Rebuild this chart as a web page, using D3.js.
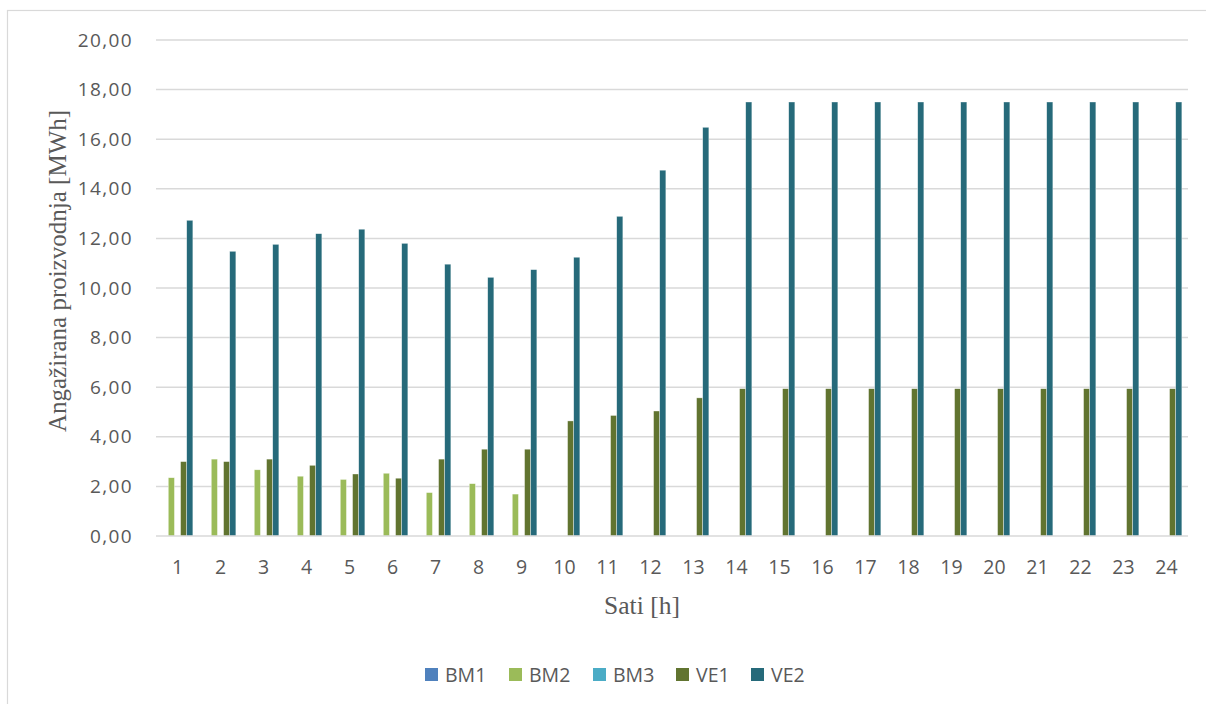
<!DOCTYPE html>
<html>
<head>
<meta charset="utf-8">
<script src="https://cdn.jsdelivr.net/npm/d3@7"></script>
<style>
  html, body { margin: 0; padding: 0; background: #fff; }
  svg { display: block; }
</style>
</head>
<body>
<svg id="chart" width="1206" height="704"></svg>
<script>
const hours = ["1","2","3","4","5","6","7","8","9","10","11","12","13","14","15","16","17","18","19","20","21","22","23","24"];
const seriesNames = ["BM1", "BM2", "BM3", "VE1", "VE2"];
const seriesColors = ["#4F81BD", "#9BBB59", "#4BACC6", "#617430", "#266A7A"];
const BM1 = [0,0,0,0,0,0,0,0,0,0,0,0,0,0,0,0,0,0,0,0,0,0,0,0];
const BM2 = [2.35,3.10,2.67,2.41,2.28,2.53,1.75,2.11,1.69,0,0,0,0,0,0,0,0,0,0,0,0,0,0,0];
const BM3 = [0,0,0,0,0,0,0,0,0,0,0,0,0,0,0,0,0,0,0,0,0,0,0,0];
const VE1 = [3.00,3.00,3.10,2.85,2.50,2.33,3.10,3.50,3.50,4.64,4.86,5.04,5.57,5.94,5.94,5.94,5.94,5.94,5.94,5.94,5.94,5.94,5.94,5.94];
const VE2 = [12.73,11.48,11.76,12.19,12.37,11.80,10.96,10.43,10.74,11.24,12.89,14.75,16.48,17.50,17.50,17.50,17.50,17.50,17.50,17.50,17.50,17.50,17.50,17.50];
const yTicks = [0,2,4,6,8,10,12,14,16,18,20];
const yTitle = "Angažirana proizvodnja [MWh]";
const xTitle = "Sati [h]";

const seriesData = [BM1, BM2, BM3, VE1, VE2];

const svg = d3.select("#chart");
const sans = "'Open Sans', 'Noto Sans', sans-serif";
const serif = "'Liberation Serif', 'DejaVu Serif', serif";
const textColor = "#595959";

// outer border
svg.append("rect").attr("x", 7.5).attr("y", 10.5).attr("width", 1210).attr("height", 710)
  .attr("fill", "none").attr("stroke", "#D9D9D9").attr("stroke-width", 1.2);

const plot = { left: 156, right: 1188, top: 40, bottom: 536 };

const y = d3.scaleLinear().domain([0, 20]).range([plot.bottom, plot.top]);
const x0 = d3.scaleBand().domain(hours).range([plot.left, plot.right])
  .paddingInner(2/7).paddingOuter(1/7);
const x1 = d3.scaleBand().domain(seriesNames).range([0, x0.bandwidth()]).padding(0);

// gridlines
svg.append("g").selectAll("line").data(yTicks.filter(t => t > 0)).join("line")
  .attr("x1", plot.left).attr("x2", plot.right)
  .attr("y1", d => y(d)).attr("y2", d => y(d))
  .attr("stroke", "#D9D9D9").attr("stroke-width", 1.5);

// y axis labels
const yAxis = d3.axisLeft(y).tickValues(yTicks)
  .tickFormat(d => d3.format(".2f")(d).replace(".", ","))
  .tickSize(0).tickPadding(23);
const gy = svg.append("g").attr("transform", `translate(${plot.left},0)`).call(yAxis);
gy.select(".domain").remove();
gy.selectAll("text").attr("font-family", sans).attr("font-size", 19).attr("fill", textColor)
  .attr("letter-spacing", 1.4);

// bars
const groups = svg.append("g").selectAll("g").data(hours).join("g")
  .attr("transform", d => `translate(${x0(d)},0)`);
groups.selectAll("rect")
  .data((h, i) => seriesNames.map((s, k) => ({ s, k, v: seriesData[k][i] })).filter(d => d.v > 0))
  .join("rect")
  .attr("x", d => x1(d.s))
  .attr("width", x1.bandwidth())
  .attr("y", d => y(d.v))
  .attr("height", d => y(0) - y(d.v))
  .attr("fill", d => seriesColors[d.k])
  .attr("stroke", "#ffffff").attr("stroke-opacity", 0.6).attr("stroke-width", 0.6);

// x axis line
svg.append("line").attr("x1", plot.left).attr("x2", plot.right)
  .attr("y1", y(0)).attr("y2", y(0))
  .attr("stroke", "#D9D9D9").attr("stroke-width", 1.5);

// x axis labels
const xAxis = d3.axisBottom(x0).tickSize(0).tickPadding(24);
const gx = svg.append("g").attr("transform", `translate(0,${plot.bottom})`).call(xAxis);
gx.select(".domain").remove();
gx.selectAll("text").attr("font-family", sans).attr("font-size", 19.5).attr("fill", textColor);

// axis titles
svg.append("text").attr("transform", "translate(66,271) rotate(-90)")
  .attr("text-anchor", "middle").attr("font-family", serif).attr("font-size", 25)
  .attr("fill", textColor).text(yTitle);
svg.append("text").attr("x", 642).attr("y", 614)
  .attr("text-anchor", "middle").attr("font-family", serif).attr("font-size", 25.5)
  .attr("fill", textColor).text(xTitle);

// legend
const legendX = [425, 509, 593, 676, 751];
const lg = svg.append("g").selectAll("g").data(seriesNames).join("g")
  .attr("transform", (d, i) => `translate(${legendX[i]},668)`);
lg.append("rect").attr("width", 13).attr("height", 13)
  .attr("fill", (d, i) => seriesColors[i]);
lg.append("text").attr("x", 20).attr("y", 14)
  .attr("font-family", sans).attr("font-size", 19.5).attr("fill", textColor).text(d => d);
</script>
</body>
</html>
